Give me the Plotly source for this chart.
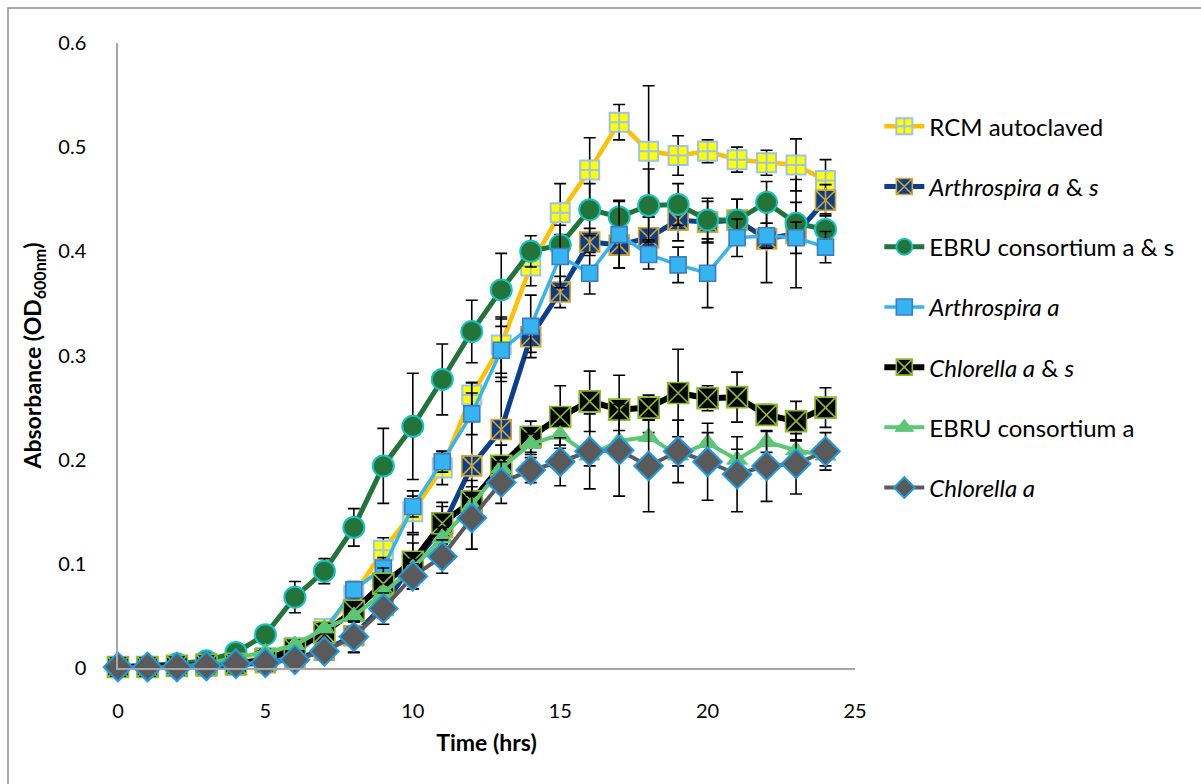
import plotly.graph_objects as go

# Sampling times (hours)
hours = list(range(25))

series_names = [
    "RCM autoclaved",
    "<i>Arthrospira a</i> &amp; <i>s</i>",
    "EBRU consortium a &amp; s",
    "<i>Arthrospira a</i>",
    "<i>Chlorella a</i> &amp; <i>s</i>",
    "EBRU consortium a",
    "<i>Chlorella a</i>",
]

# Mean OD600 readings
rcm_autoclaved = [0.001, 0.001, 0.002, 0.004, 0.006, 0.010, 0.020, 0.038, 0.070, 0.113,
                  0.150, 0.192, 0.262, 0.310, 0.386, 0.437, 0.478, 0.524, 0.496, 0.492,
                  0.496, 0.488, 0.485, 0.483, 0.468]
arthro_as = [0.001, 0.001, 0.002, 0.002, 0.003, 0.005, 0.009, 0.017, 0.031, 0.060,
             0.100, 0.135, 0.194, 0.229, 0.318, 0.361, 0.409, 0.406, 0.413, 0.430,
             0.428, 0.430, 0.412, 0.417, 0.449]
ebru_as = [0.001, 0.002, 0.004, 0.007, 0.015, 0.032, 0.068, 0.093, 0.135, 0.194,
           0.232, 0.277, 0.323, 0.363, 0.400, 0.406, 0.440, 0.433, 0.444, 0.445,
           0.430, 0.430, 0.447, 0.427, 0.421]
arthro_a = [0.001, 0.001, 0.001, 0.002, 0.003, 0.006, 0.012, 0.036, 0.075, 0.096,
            0.155, 0.198, 0.244, 0.305, 0.328, 0.395, 0.379, 0.416, 0.397, 0.387,
            0.379, 0.413, 0.415, 0.413, 0.404]
chlorella_as = [0.001, 0.001, 0.002, 0.003, 0.004, 0.008, 0.018, 0.034, 0.055, 0.081,
                0.102, 0.139, 0.160, 0.194, 0.222, 0.241, 0.256, 0.248, 0.250, 0.264,
                0.259, 0.260, 0.243, 0.237, 0.250]
ebru_a = [0.000, 0.000, 0.001, 0.004, 0.010, 0.015, 0.022, 0.038, 0.050, 0.072,
          0.096, 0.125, 0.156, 0.192, 0.215, 0.224, 0.204, 0.218, 0.222, 0.204,
          0.216, 0.200, 0.217, 0.209, 0.204]
chlorella_a = [0.001, 0.001, 0.001, 0.002, 0.004, 0.005, 0.008, 0.016, 0.030, 0.057,
               0.088, 0.107, 0.144, 0.178, 0.190, 0.198, 0.208, 0.209, 0.194, 0.208,
               0.198, 0.186, 0.194, 0.196, 0.208]

# Standard deviations
rcm_autoclaved_sd = [0.002, 0.002, 0.002, 0.002, 0.002, 0.002, 0.004, 0.006, 0.008, 0.012,
                     0.020, 0.016, 0.012, 0.027, 0.019, 0.028, 0.031, 0.017, 0.063, 0.019,
                     0.011, 0.012, 0.012, 0.025, 0.020]
arthro_as_sd = [0.002, 0.002, 0.002, 0.002, 0.002, 0.002, 0.004, 0.006, 0.016, 0.012,
                0.020, 0.020, 0.080, 0.050, 0.015, 0.015, 0.013, 0.022, 0.020, 0.020,
                0.020, 0.020, 0.042, 0.052, 0.015]
ebru_as_sd = [0.002, 0.002, 0.002, 0.002, 0.004, 0.006, 0.015, 0.012, 0.018, 0.036,
              0.051, 0.034, 0.030, 0.035, 0.015, 0.010, 0.025, 0.016, 0.035, 0.020,
              0.021, 0.020, 0.020, 0.020, 0.015]
arthro_a_sd = [0.002, 0.002, 0.002, 0.002, 0.002, 0.002, 0.004, 0.006, 0.008, 0.010,
               0.010, 0.010, 0.020, 0.030, 0.030, 0.030, 0.020, 0.032, 0.014, 0.017,
               0.033, 0.018, 0.012, 0.015, 0.015]
chlorella_as_sd = [0.002, 0.002, 0.002, 0.002, 0.002, 0.002, 0.004, 0.006, 0.010, 0.015,
                   0.026, 0.020, 0.020, 0.020, 0.015, 0.030, 0.029, 0.033, 0.012, 0.042,
                   0.012, 0.024, 0.010, 0.019, 0.019]
ebru_a_sd = [0.001, 0.001, 0.001, 0.002, 0.002, 0.003, 0.004, 0.005, 0.006, 0.008,
             0.008, 0.010, 0.010, 0.010, 0.010, 0.010, 0.010, 0.010, 0.004, 0.010,
             0.010, 0.010, 0.010, 0.010, 0.010]
chlorella_a_sd = [0.002, 0.002, 0.002, 0.002, 0.002, 0.002, 0.004, 0.006, 0.015, 0.015,
                  0.012, 0.016, 0.030, 0.020, 0.012, 0.023, 0.036, 0.044, 0.044, 0.030,
                  0.037, 0.036, 0.034, 0.029, 0.018]

x_ticks = [0, 5, 10, 15, 20, 25]
y_ticks = [0, 0.1, 0.2, 0.3, 0.4, 0.5, 0.6]
y_tick_text = ["0", "0.1", "0.2", "0.3", "0.4", "0.5", "0.6"]

FONT = "Lato"

styles = [
    # line colour, line width, symbol, fill, edge colour, edge width, size
    dict(lc="#FFC000", lw=4.5, sym="square-cross", fill="#FFFF00", edge="#9DC3E6", ew=2, size=19),
    dict(lc="#0B3F8C", lw=5, sym="square-x", fill="#0B3F8C", edge="#D4A437", ew=1.6, size=20),
    dict(lc="#227438", lw=5, sym="circle", fill="#227438", edge="#16C2C2", ew=2, size=21),
    dict(lc="#35B4F2", lw=3.5, sym="square", fill="#35B4F2", edge="#3C7DC4", ew=1.6, size=16),
    dict(lc="#000000", lw=6, sym="square-x", fill="#000000", edge="#8DB92E", ew=1.6, size=21),
    dict(lc="#5BC774", lw=4, sym="triangle-up", fill="#5BC774", edge="#5BC774", ew=1, size=18),
    dict(lc="#5A5A5A", lw=4, sym="diamond", fill="#5A5A5A", edge="#1E9BE6", ew=2, size=22),
]

values = [rcm_autoclaved, arthro_as, ebru_as, arthro_a, chlorella_as, ebru_a, chlorella_a]
errors = [rcm_autoclaved_sd, arthro_as_sd, ebru_as_sd, arthro_a_sd, chlorella_as_sd,
          ebru_a_sd, chlorella_a_sd]

fig = go.Figure()
for i, (name, ys, sd, st) in enumerate(zip(series_names, values, errors, styles)):
    fig.add_trace(go.Scatter(
        x=hours, y=ys, name=name, mode="lines+markers",
        legendgroup=f"g{i}", cliponaxis=False,
        line=dict(color=st["lc"], width=st["lw"]),
        marker=dict(symbol=st["sym"], size=st["size"], color=st["fill"],
                    line=dict(color=st["edge"], width=st["ew"])),
        error_y=dict(type="data", array=sd, visible=True, color="#000000",
                     thickness=1.6, width=6),
    ))
    if i == 1:
        # vertical stroke completing the asterisk glyph
        fig.add_trace(go.Scatter(
            x=hours, y=ys, mode="markers", showlegend=False, hoverinfo="skip",
            legendgroup=f"g{i}", cliponaxis=False,
            marker=dict(symbol="line-ns", size=18, color=st["edge"],
                        line=dict(color=st["edge"], width=1.6)),
        ))

fig.update_layout(
    width=1201, height=784,
    paper_bgcolor="white", plot_bgcolor="white",
    margin=dict(l=118, r=346, t=43, b=116),
    font=dict(family=FONT, size=20, color="#000000"),
    showlegend=True,
    legend=dict(
        x=1.033, xanchor="left", y=0.902, yanchor="top",
        font=dict(family=FONT, size=24, color="#000000"),
        traceorder="grouped", tracegroupgap=26,
        bgcolor="rgba(0,0,0,0)", itemwidth=40,
    ),
    xaxis=dict(
        range=[0, 25], tickvals=x_ticks, ticktext=[str(v) for v in x_ticks],
        showgrid=False, zeroline=False, showline=True, linecolor="#A6A6A6", linewidth=1.5,
        ticks="", ticklabelstandoff=24,
        tickfont=dict(family=FONT, size=20),
        title=dict(text="<b>Time (hrs)</b>", font=dict(family=FONT, size=23), standoff=14),
    ),
    yaxis=dict(
        range=[0, 0.6], tickvals=y_ticks, ticktext=y_tick_text,
        showgrid=False, zeroline=False, showline=True, linecolor="#A6A6A6", linewidth=1.5,
        ticks="", ticklabelstandoff=26,
        tickfont=dict(family=FONT, size=20),
        title=dict(text="<b>Absorbance (OD<sub>600nm</sub>)</b>", font=dict(family=FONT, size=23),
                   standoff=10),
    ),
    shapes=[dict(
        type="rect", xref="paper", yref="paper",
        x0=(8 - 118) / 737, x1=1.5, y0=-0.25, y1=(668 - 8) / 625,
        line=dict(color="#8C8C8C", width=1.5), fillcolor="rgba(0,0,0,0)", layer="below",
    )],
)

fig.write_html("out.html")
